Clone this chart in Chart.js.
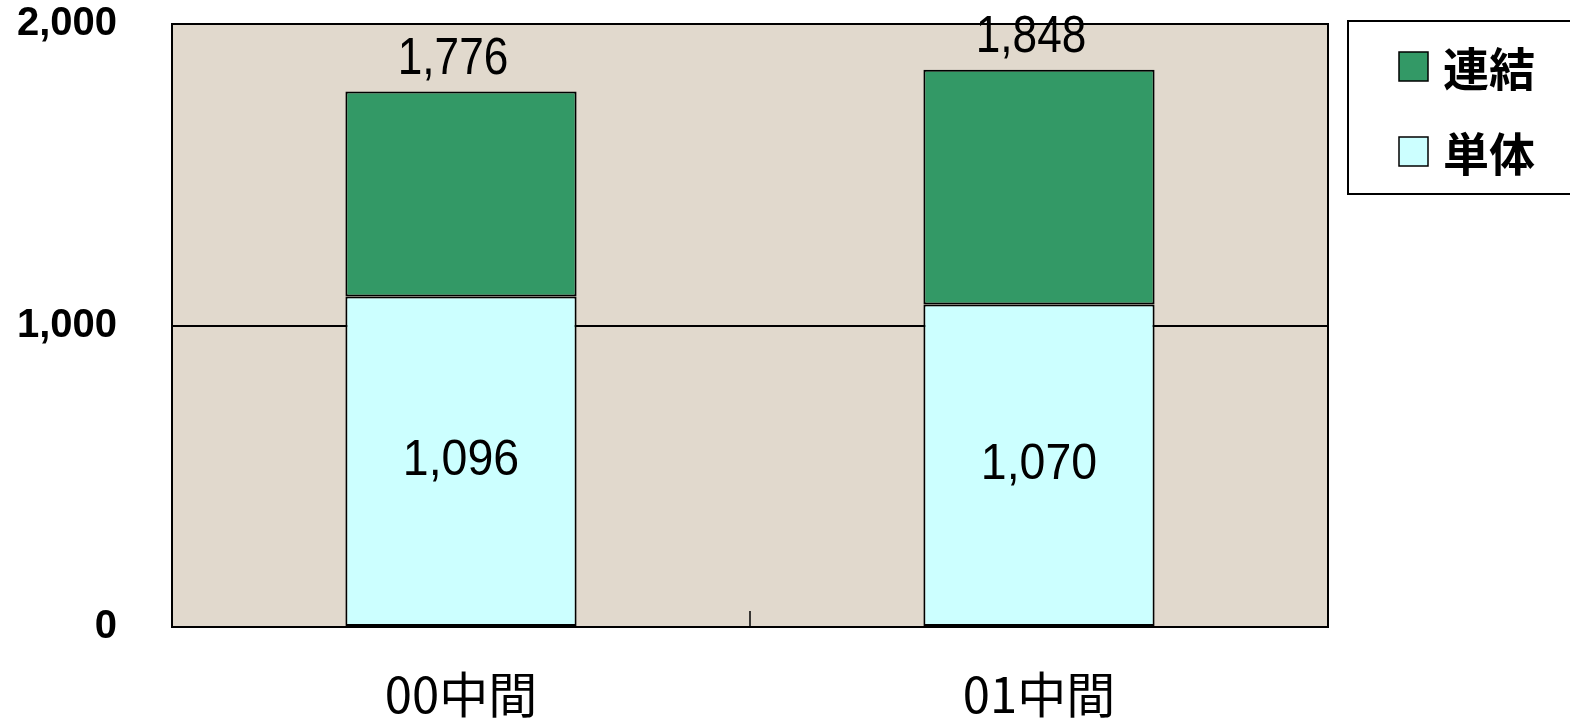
<!DOCTYPE html>
<html>
<head>
<meta charset="utf-8">
<script src="https://cdn.jsdelivr.net/npm/chart.js@4"></script>
<style>
html,body{margin:0;padding:0;background:#fff;}
#wrap{width:1570px;height:718px;position:relative;}
</style>
</head>
<body>
<div id="wrap"><canvas id="c" width="1570" height="718"></canvas></div>
<script>
const categories = ['00中間', '01中間'];
const tanTai = [1096, 1070];          // 単体
const renketsuTotal = [1776, 1848];   // 連結 (total)
const seriesNames = ['単体', '連結'];
const yTicks = [0, 1000, 2000];

const renketsuPart = renketsuTotal.map((t, i) => t - tanTai[i]);

function drawScaledText(ctx, text, x, y, sx) {
  ctx.save();
  ctx.translate(x, y);
  ctx.scale(sx, 1);
  ctx.fillText(text, 0, 0);
  ctx.restore();
}

const bgPlugin = {
  id: 'bg',
  beforeDraw(chart) {
    const {ctx, chartArea: a} = chart;
    ctx.save();
    ctx.fillStyle = '#E1D9CD';
    ctx.fillRect(a.left, a.top, a.right - a.left, a.bottom - a.top);
    ctx.restore();
  },
  afterDraw(chart) {
    const {ctx, chartArea: a} = chart;
    ctx.save();
    ctx.strokeStyle = '#000';
    ctx.lineWidth = 2;
    ctx.strokeRect(a.left, a.top, a.right - a.left, a.bottom - a.top);
    // middle tick between categories
    const xs = chart.scales.x;
    const mx = (xs.getPixelForValue(0) + xs.getPixelForValue(1)) / 2;
    ctx.lineWidth = 1.5;
    ctx.beginPath();
    ctx.moveTo(mx, a.bottom);
    ctx.lineTo(mx, a.bottom - 16);
    ctx.stroke();

    // data labels
    const m0 = chart.getDatasetMeta(0);
    const m1 = chart.getDatasetMeta(1);
    ctx.fillStyle = '#000';
    ctx.textAlign = 'center';
    m0.data.forEach((bar, i) => {
      ctx.font = '50px "Liberation Sans", Arial, sans-serif';
      ctx.textBaseline = 'middle';
      drawScaledText(ctx, tanTai[i].toLocaleString('en-US'), bar.x, (bar.y + bar.base) / 2, 0.93);
    });
    m1.data.forEach((bar, i) => {
      ctx.font = '52px "Liberation Sans", Arial, sans-serif';
      ctx.textBaseline = 'alphabetic';
      drawScaledText(ctx, renketsuTotal[i].toLocaleString('en-US'), bar.x - 8, bar.y - 18, 0.85);
    });

    // legend
    const lx = 1348, ly = 21, lw = 240, lh = 173;
    ctx.fillStyle = '#fff';
    ctx.fillRect(lx, ly, lw, lh);
    ctx.lineWidth = 2;
    ctx.strokeStyle = '#000';
    ctx.strokeRect(lx, ly, lw, lh);
    const items = [
      {name: seriesNames[1], color: chart.data.datasets[1].backgroundColor, cy: 67},
      {name: seriesNames[0], color: chart.data.datasets[0].backgroundColor, cy: 152}
    ];
    items.forEach(it => {
      ctx.fillStyle = it.color;
      ctx.fillRect(1399, it.cy - 15, 29, 29);
      ctx.lineWidth = 1.5;
      ctx.strokeRect(1399, it.cy - 15, 29, 29);
      ctx.fillStyle = '#000';
      ctx.font = 'bold 46px "Noto Sans CJK JP", sans-serif';
      ctx.textAlign = 'left';
      ctx.textBaseline = 'middle';
      ctx.fillText(it.name, 1443, it.cy + 2);
    });
    ctx.restore();
  }
};

const chart = new Chart(document.getElementById('c'), {
  type: 'bar',
  data: {
    labels: categories,
    datasets: [
      {label: seriesNames[0], data: tanTai, backgroundColor: '#CCFFFF', borderColor: '#000', borderWidth: 2, borderSkipped: false, barPercentage: 0.4, categoryPercentage: 1},
      {label: seriesNames[1], data: renketsuPart, backgroundColor: '#339966', borderColor: '#000', borderWidth: 2, borderSkipped: false, barPercentage: 0.4, categoryPercentage: 1}
    ]
  },
  options: {
    responsive: false,
    animation: false,
    devicePixelRatio: 1,
    layout: {padding: {left: 17, right: 242, top: 24, bottom: 0}},
    plugins: {legend: {display: false}, tooltip: {enabled: false}},
    scales: {
      x: {
        stacked: true,
        grid: {display: false},
        border: {display: false},
        ticks: {
          color: '#000',
          padding: 35,
          font: {family: '"Noto Sans CJK JP", sans-serif', size: 49, lineHeight: 1.0}
        }
      },
      y: {
        stacked: true,
        min: 0, max: 2000,
        afterBuildTicks(scale) { scale.ticks = yTicks.map(v => ({value: v})); },
        afterFit(scale) { scale.paddingTop = 0; scale.paddingBottom = 0; },
        grid: {color: '#000', lineWidth: 2, drawTicks: false},
        border: {display: false},
        ticks: {
          color: '#000',
          padding: 55,
          font: {family: '"Liberation Sans", Arial, sans-serif', size: 40, weight: 'bold'},
          callback: v => v.toLocaleString('en-US')
        }
      }
    }
  },
  plugins: [bgPlugin]
});

// fit the plot area to the reference frame
const target = {left: 172, top: 24, right: 1328, bottom: 627};
for (let k = 0; k < 3; k++) {
  const a = chart.chartArea;
  const p = chart.options.layout.padding;
  p.left += target.left - a.left;
  p.top += target.top - a.top;
  p.right += a.right - target.right;
  p.bottom += a.bottom - target.bottom;
  chart.update();
}
</script>
</body>
</html>
